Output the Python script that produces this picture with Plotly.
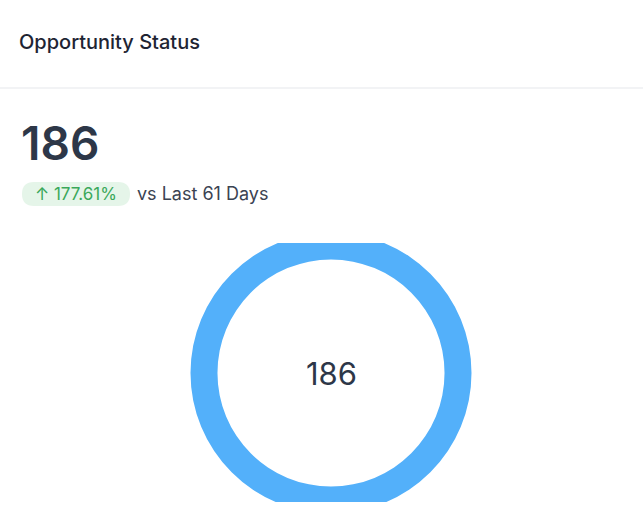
import plotly.graph_objects as go

W, H = 643, 522

title_text = "Opportunity Status"
total_value = 186
change_pct = 177.61
compare_label = "vs Last 61 Days"
categories = ["Opportunities"]
values = [186]
colors = ["#53b0fa"]


def px(x):
    return x / W


def py(y):
    return 1 - y / H


fig = go.Figure()

# donut
cx, cy, r = 331, 373, 140.5
fig.add_trace(go.Pie(
    labels=categories,
    values=values,
    hole=0.808,
    sort=False,
    textinfo="none",
    hoverinfo="label+value",
    marker=dict(colors=colors, line=dict(width=0)),
    domain=dict(x=[px(cx - 312), px(cx + 312)], y=[py(cy + r), py(cy - r)]),
    showlegend=False,
))

shapes = []
# header divider
shapes.append(dict(type="line", xref="paper", yref="paper",
                   x0=0, x1=1, y0=py(88), y1=py(88),
                   line=dict(color="#e5e7eb", width=1), layer="above"))
# clipping rects (donut is cut at top and bottom)
shapes.append(dict(type="rect", xref="paper", yref="paper",
                   x0=px(170), x1=px(490), y0=py(243), y1=py(225),
                   fillcolor="white", line=dict(width=0), layer="above"))
shapes.append(dict(type="rect", xref="paper", yref="paper",
                   x0=px(170), x1=px(490), y0=py(522), y1=py(502),
                   fillcolor="white", line=dict(width=0), layer="above"))

# badge rounded rect
bx0, bx1, by0, by1, rr = 22, 130, 182, 206, 12
path = (
    f"M {px(bx0 + rr)},{py(by0)} L {px(bx1 - rr)},{py(by0)} "
    f"Q {px(bx1)},{py(by0)} {px(bx1)},{py(by0 + rr)} "
    f"Q {px(bx1)},{py(by1)} {px(bx1 - rr)},{py(by1)} "
    f"L {px(bx0 + rr)},{py(by1)} "
    f"Q {px(bx0)},{py(by1)} {px(bx0)},{py(by1 - rr)} "
    f"Q {px(bx0)},{py(by0)} {px(bx0 + rr)},{py(by0)} Z"
)
shapes.append(dict(type="path", xref="paper", yref="paper", path=path,
                   fillcolor="#e5f5e9", line=dict(width=0), layer="below"))

annotations = [
    dict(text=title_text, x=px(17), y=py(42), xref="paper", yref="paper",
         xanchor="left", yanchor="middle", showarrow=False,
         font=dict(family="Inter", size=20, color="#1e2433", weight=500)),
    dict(text=str(total_value), x=px(19), y=py(143), xref="paper", yref="paper",
         xanchor="left", yanchor="middle", showarrow=False,
         font=dict(family="Inter", size=46, color="#2d3748", weight=600)),
    dict(text=f"↑ {change_pct:.2f}%", x=px(76), y=py(194), xref="paper", yref="paper",
         xanchor="center", yanchor="middle", showarrow=False,
         font=dict(family="Inter", size=17, color="#3aa85a", weight=400)),
    dict(text=compare_label, x=px(135), y=py(193), xref="paper", yref="paper",
         xanchor="left", yanchor="middle", showarrow=False,
         font=dict(family="Inter", size=18, color="#3b4352", weight=400)),
    dict(text=str(sum(values)), x=px(cx), y=py(cy), xref="paper", yref="paper",
         xanchor="center", yanchor="middle", showarrow=False,
         font=dict(family="Inter", size=31, color="#2d3748", weight=400)),
]

fig.update_layout(
    width=W, height=H,
    margin=dict(l=0, r=0, t=0, b=0),
    paper_bgcolor="white", plot_bgcolor="white",
    shapes=shapes, annotations=annotations,
    font=dict(family="Inter"),
)

fig.write_html("out.html", config={"displayModeBar": False},
               post_script="document.body.style.margin='0';")
